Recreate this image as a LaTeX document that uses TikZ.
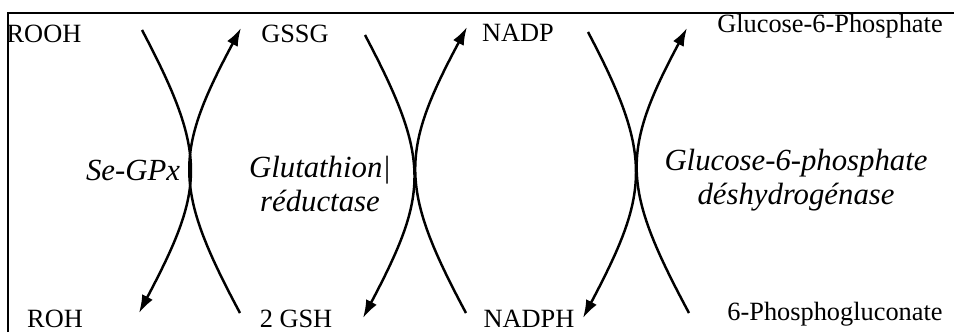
\documentclass[tikz,border=0pt]{standalone}
\usepackage{fontspec}
\setmainfont{Liberation Serif}
\usetikzlibrary{arrows.meta}
\tikzset{
  species/.style={inner sep=0pt, font=\fontsize{15}{17}\selectfont},
  enzyme/.style={inner sep=0pt, align=center, font=\fontsize{17.5}{21}\selectfont\itshape},
  arc/.style={line width=1.4pt},
  arcarrow/.style={arc, -{Latex[length=3.6mm,width=2.4mm]}},
  frame/.style={line width=1pt}
}
\begin{document}
\begin{tikzpicture}[x=0.02cm,y=-0.02cm]
\useasboundingbox (0,0) rectangle (954,332);
% frame (top and left edges)
\coordinate (fa) at (8,332);
\coordinate (fb) at (8,13);
\coordinate (fc) at (954,13);
\draw[frame] (fa) -- (fb) -- (fc);
% species
\node[species] (rooh) at (44,34) {ROOH};
\node[species] (roh) at (55,319) {ROH};
\node[species] (gssg) at (295,34) {GSSG};
\node[species] (gsh) at (296,319) {2 GSH};
\node[species] (nadp) at (518,33) {NADP};
\node[species] (nadph) at (529,319) {NADPH};
\node[species] (g6p) at (830,26) {Glucose-6-Phosphate};
\node[species] (pg) at (835,314) {6-Phosphogluconate};
% enzymes
\node[enzyme] (gpx) at (133,170) {Se-GPx};
\node[enzyme] (gr) at (320,184) {Glutathion|\\[-2pt]réductase};
\node[enzyme] (g6pd) at (796,180) {Glucose-6-phosphate\\[-2pt]déshydrogénase};
% curve end points
\coordinate (a1s) at (142,30);  \coordinate (a1e) at (139,313);
\coordinate (b1s) at (240,313); \coordinate (b1e) at (241,28);
\coordinate (a2s) at (365,35);  \coordinate (a2e) at (363,318);
\coordinate (b2s) at (466,313); \coordinate (b2e) at (467,27);
\coordinate (a3s) at (588,32);  \coordinate (a3e) at (583,318);
\coordinate (b3s) at (689,313); \coordinate (b3e) at (687,28);
% pair 1
\draw[arcarrow] (a1s) .. controls +(66,125) and +(66,-125) .. (a1e);
\draw[arcarrow] (b1s) .. controls +(-67,-125) and +(-67,125) .. (b1e);
% pair 2
\draw[arcarrow] (a2s) .. controls +(66,125) and +(66,-125) .. (a2e);
\draw[arcarrow] (b2s) .. controls +(-67,-125) and +(-67,125) .. (b2e);
% pair 3
\draw[arcarrow] (a3s) .. controls +(66,125) and +(66,-125) .. (a3e);
\draw[arcarrow] (b3s) .. controls +(-67,-125) and +(-67,125) .. (b3e);
\end{tikzpicture}
\end{document}
